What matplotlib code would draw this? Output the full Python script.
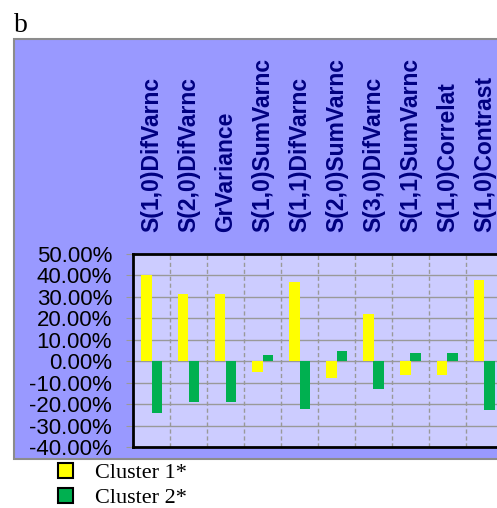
import numpy as np
import matplotlib.pyplot as plt
from matplotlib.patches import Rectangle, Patch

plt.rcParams['font.family'] = 'Liberation Sans'

features = ["S(1,0)DifVarnc", "S(2,0)DifVarnc", "GrVariance", "S(1,0)SumVarnc",
            "S(1,1)DifVarnc", "S(2,0)SumVarnc", "S(3,0)DifVarnc", "S(1,1)SumVarnc",
            "S(1,0)Correlat", "S(1,0)Contrast"]
cluster1 = [40.3, 31.5, 31.5, -4.9, 36.8, -7.8, 22.0, -6.4, -6.4, 37.7]
cluster2 = [-24.1, -19.2, -19.2, 2.8, -22.3, 4.8, -13.1, 3.7, 3.7, -22.6]
yticks = np.arange(-40, 51, 10)

W, H = 497, 508
fig = plt.figure(figsize=(W / 100, H / 100), dpi=100)

# outer blue panel (runs off the right edge)
fig.patches.append(Rectangle((14 / W, 49 / H), 1.0, 420 / H, transform=fig.transFigure,
                             facecolor='#9999ff', edgecolor='#8c8c8c', lw=1.5, zorder=-5))

ax = fig.add_axes([133 / W, 61 / H, 370 / W, 193 / H])
ax.set_zorder(2)
ax.set_facecolor('#ccccff')

x = np.arange(len(features)) + 0.5
bw = 0.29
ax.bar(x - bw / 2, cluster1, bw, color='#ffff00', zorder=3)
ax.bar(x + bw / 2, cluster2, bw, color='#00b050', zorder=3)

ax.set_xlim(0, len(features))
ax.set_ylim(-40, 50)
ax.set_yticks(yticks)
ax.set_yticklabels(['%.2f%%' % v for v in yticks])
ax.set_xticks(x)
ax.set_xticks(np.arange(1, len(features)), minor=True)
ax.set_xticklabels(features, rotation=90, va='bottom', ha='center',
                   fontsize=16.5, fontweight='bold', color='#000080')
ax.xaxis.set_ticks_position('top')
ax.tick_params(axis='x', which='both', length=0, pad=15.8)
ax.tick_params(axis='y', length=5, color='#999999', pad=10, labelsize=16)

ax.set_axisbelow(True)
ax.grid(axis='y', color='#999999', lw=1)
ax.grid(axis='x', which='minor', color='#999999', lw=1, ls=(0, (3, 2)))

for s in ['top', 'bottom', 'left']:
    ax.spines[s].set_color('black')
    ax.spines[s].set_linewidth(2)
ax.spines['right'].set_visible(False)

fig.text(14 / W, 1 - 32 / H, 'b', family='Liberation Serif', fontsize=20, va='baseline')

handles = [Patch(facecolor='#ffff00', edgecolor='black', lw=1.5),
           Patch(facecolor='#00b050', edgecolor='black', lw=1.5)]
fig.legend(handles=handles, labels=['Cluster 1*', 'Cluster 2*'], loc='upper left',
           bbox_to_anchor=(58 / W, 1 - 463 / H), frameon=False,
           prop={'family': 'Liberation Serif', 'size': 16},
           handlelength=0.68, handleheight=0.68, handletextpad=1.0,
           labelspacing=0.2, borderpad=0, borderaxespad=0)

fig.savefig('out.png', dpi=100)
